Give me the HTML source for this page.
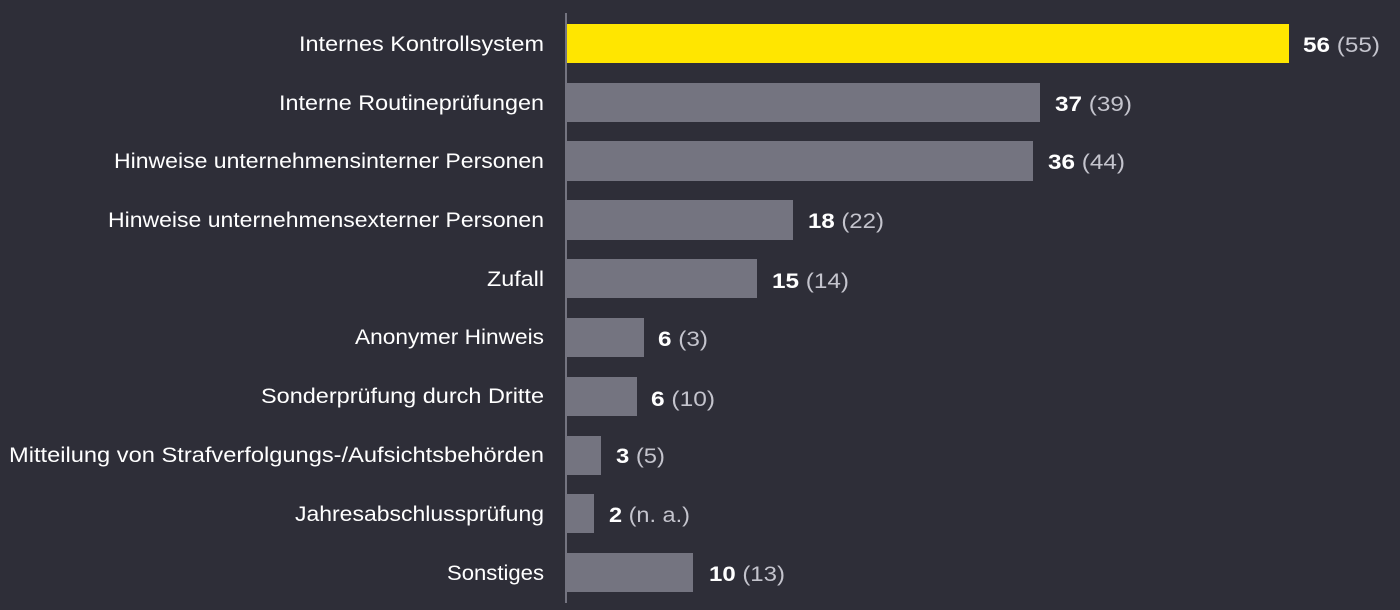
<!DOCTYPE html>
<html><head><meta charset="utf-8"><style>
html,body{margin:0;padding:0;background:#2e2e38;}
svg{display:block;}
text{font-family:"Liberation Sans",sans-serif;font-size:21px;}
</style></head><body>
<svg width="1400" height="610" viewBox="0 0 1400 610">
<rect width="1400" height="610" fill="#2e2e38"/>
<rect x="565" y="13" width="2" height="590" fill="#747480"/>
<g fill="#747480">
<rect x="567" y="24" width="722" height="39" fill="#ffe600"/>
<rect x="567" y="83" width="473" height="39"/>
<rect x="567" y="141" width="466" height="40"/>
<rect x="567" y="200" width="226" height="40"/>
<rect x="567" y="259" width="190" height="39"/>
<rect x="567" y="318" width="77" height="39"/>
<rect x="567" y="377" width="70" height="39"/>
<rect x="567" y="436" width="34" height="39"/>
<rect x="567" y="494" width="27" height="39"/>
<rect x="567" y="553" width="126" height="39"/>
</g>
<g fill="#ffffff" lengthAdjust="spacingAndGlyphs">
<text x="299" y="51" textLength="245" lengthAdjust="spacingAndGlyphs">Internes Kontrollsystem</text>
<text x="279" y="110" textLength="265" lengthAdjust="spacingAndGlyphs">Interne Routineprüfungen</text>
<text x="114" y="168" textLength="430" lengthAdjust="spacingAndGlyphs">Hinweise unternehmensinterner Personen</text>
<text x="108" y="227" textLength="436" lengthAdjust="spacingAndGlyphs">Hinweise unternehmensexterner Personen</text>
<text x="487" y="286" textLength="57" lengthAdjust="spacingAndGlyphs">Zufall</text>
<text x="355" y="344" textLength="189" lengthAdjust="spacingAndGlyphs">Anonymer Hinweis</text>
<text x="261" y="403" textLength="283" lengthAdjust="spacingAndGlyphs">Sonderprüfung durch Dritte</text>
<text x="9" y="462" textLength="535" lengthAdjust="spacingAndGlyphs">Mitteilung von Strafverfolgungs-/Aufsichtsbehörden</text>
<text x="295" y="521" textLength="249" lengthAdjust="spacingAndGlyphs">Jahresabschlussprüfung</text>
<text x="447" y="580" textLength="97" lengthAdjust="spacingAndGlyphs">Sonstiges</text>
</g>
<g>
<text x="1303" y="52" fill="#fff" textLength="77" lengthAdjust="spacingAndGlyphs"><tspan font-weight="bold">56</tspan> <tspan fill="#c4c4cd">(55)</tspan></text>
<text x="1055" y="111" fill="#fff" textLength="77" lengthAdjust="spacingAndGlyphs"><tspan font-weight="bold">37</tspan> <tspan fill="#c4c4cd">(39)</tspan></text>
<text x="1048" y="169" fill="#fff" textLength="77" lengthAdjust="spacingAndGlyphs"><tspan font-weight="bold">36</tspan> <tspan fill="#c4c4cd">(44)</tspan></text>
<text x="808" y="228" fill="#fff" textLength="76" lengthAdjust="spacingAndGlyphs"><tspan font-weight="bold">18</tspan> <tspan fill="#c4c4cd">(22)</tspan></text>
<text x="772" y="288" fill="#fff" textLength="77" lengthAdjust="spacingAndGlyphs"><tspan font-weight="bold">15</tspan> <tspan fill="#c4c4cd">(14)</tspan></text>
<text x="658" y="346" fill="#fff" textLength="50" lengthAdjust="spacingAndGlyphs"><tspan font-weight="bold">6</tspan> <tspan fill="#c4c4cd">(3)</tspan></text>
<text x="651" y="406" fill="#fff" textLength="64" lengthAdjust="spacingAndGlyphs"><tspan font-weight="bold">6</tspan> <tspan fill="#c4c4cd">(10)</tspan></text>
<text x="616" y="463" fill="#fff" textLength="49" lengthAdjust="spacingAndGlyphs"><tspan font-weight="bold">3</tspan> <tspan fill="#c4c4cd">(5)</tspan></text>
<text x="609" y="522" fill="#fff" textLength="81" lengthAdjust="spacingAndGlyphs"><tspan font-weight="bold">2</tspan> <tspan fill="#c4c4cd">(n. a.)</tspan></text>
<text x="709" y="581" fill="#fff" textLength="76" lengthAdjust="spacingAndGlyphs"><tspan font-weight="bold">10</tspan> <tspan fill="#c4c4cd">(13)</tspan></text>
</g>
</svg>
</body></html>
